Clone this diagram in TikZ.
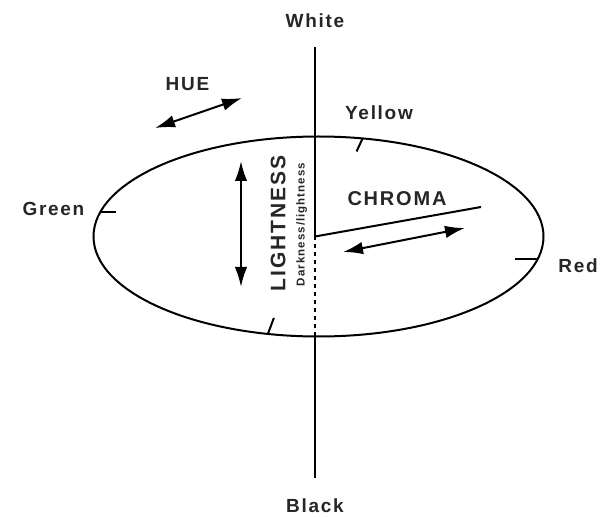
\documentclass[tikz,border=0pt]{standalone}
\usepackage{fontspec}
\setmainfont{Liberation Sans}
\newfontfamily\lblfont[LetterSpace=9]{Liberation Sans}
\usetikzlibrary{arrows.meta, calc, math}
\tikzset{
  axisline/.style={line width=2pt},
  twoway/.style={line width=2pt, {Latex[length=20pt,width=12.5pt]}-{Latex[length=20pt,width=12.5pt]}},
  colorlbl/.style={font=\lblfont\bfseries\fontsize{19}{20}\selectfont, inner sep=0pt, text depth=0pt, text=black!85},
}

\begin{document}
\begin{tikzpicture}[x=1pt,y=-1pt]
\tikzmath{
\rx=225;
\ry=100;
\ax=315;
}
\useasboundingbox (0,0) rectangle (600,518);

\coordinate (E) at (318.5,236.5);
\coordinate (O) at (\ax,236.5);
\coordinate (top) at (\ax,47);
\coordinate (bot) at (\ax,478);
\coordinate (rimtop) at (\ax,136.5);
\coordinate (rimbot) at (\ax,336.5);
\coordinate (chromaend) at (481,207);

% solid ellipse and the lightness axis
\draw[axisline] (E) ellipse [x radius=\rx pt, y radius=\ry pt];
\draw[axisline] (top) -- (O);
\draw[axisline, dash pattern=on 4pt off 4pt] (O) -- (rimbot);
\draw[axisline] (rimbot) -- (bot);
\draw[axisline] (O) -- (chromaend);

% hue marks on the rim
\coordinate (tickY) at ($(E)+(-78.7:{\rx} and {\ry})$);
\coordinate (tickG) at ($(E)+(194:{\rx} and {\ry})$);
\coordinate (tickR) at ($(E)+(12.8:{\rx} and {\ry})$);
\coordinate (tickB) at ($(E)+(103:{\rx} and {\ry})$);
\draw[axisline] (tickY) -- ++(-6,13);
\draw[axisline] (tickG) -- ++(16,0);
\draw[axisline] (tickR) -- ++(-23,0);
\draw[axisline] (tickB) -- ++(6,-16);

% double arrows
\coordinate (hueA) at (155,128);
\coordinate (hueB) at (242,98);
\draw[twoway] (hueA) -- (hueB);
\coordinate (lightA) at (241,161);
\coordinate (lightB) at (241,287);
\draw[twoway] (lightA) -- (lightB);
\coordinate (chromaA) at (343,252);
\coordinate (chromaB) at (465,228);
\draw[twoway] (chromaA) -- (chromaB);

% labels
\node[colorlbl] (white) at (\ax,21) {White};
\node[colorlbl] (black) at (\ax,505.5) {Black};
\node[colorlbl] (yellow) at (379,112.5) {Yellow};
\node[colorlbl] (green) at (53.5,208.5) {Green};
\node[colorlbl] (red) at (578,265.5) {Red};
\node[colorlbl] (hue) at (187.5,83.5) {HUE};
\node[colorlbl, font=\lblfont\bfseries\fontsize{20}{21}\selectfont] (chroma) at (397,199) {CHROMA};
\node[colorlbl, font=\lblfont\bfseries\fontsize{21}{22}\selectfont, rotate=90] (lightness) at (278,223.5) {LIGHTNESS};
\node[colorlbl, font=\lblfont\bfseries\fontsize{11.5}{12}\selectfont, rotate=90] (dark) at (300.5,224.5) {Darkness/lightness};
\end{tikzpicture}
\end{document}
